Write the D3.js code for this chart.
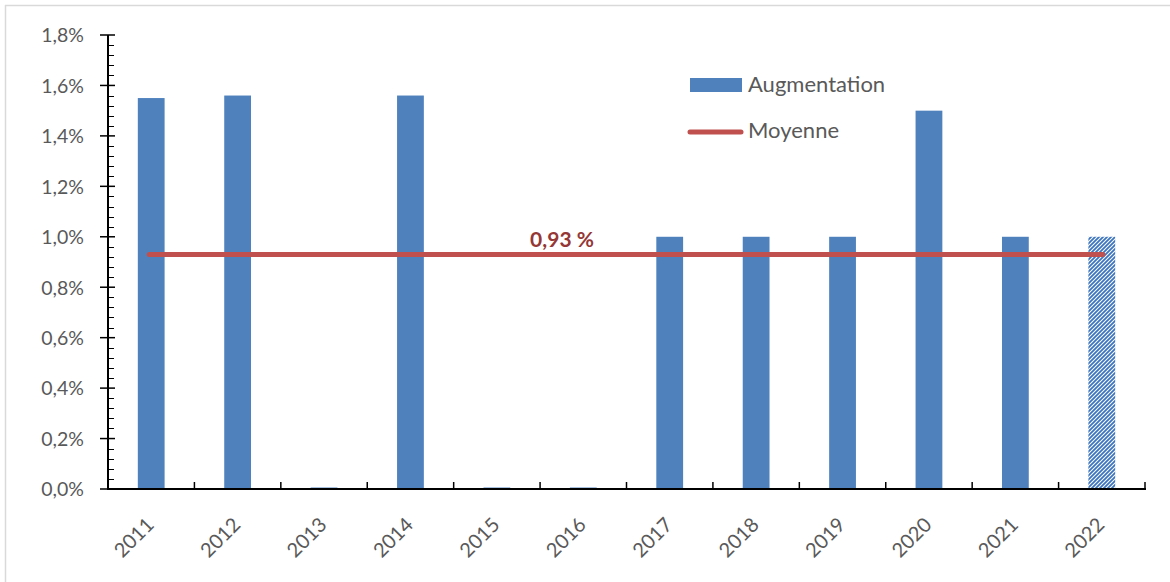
<!DOCTYPE html>
<html><head><meta charset="utf-8">
<script src="https://cdn.jsdelivr.net/npm/d3@7"></script>
<style>
body{margin:0;background:#fff;}
svg{display:block;font-family:Lato,"Open Sans",sans-serif;}
</style></head>
<body>
<svg id="c" width="1170" height="582"></svg>
<script>
const years = ["2011","2012","2013","2014","2015","2016","2017","2018","2019","2020","2021","2022"];
const augmentation = [0.0155,0.0156,0.00005,0.0156,0.00005,0.00005,0.010,0.010,0.010,0.015,0.010,0.010];
const estimated = ["2022"];
const moyenne = 0.0093;
const yTicks = [0,0.002,0.004,0.006,0.008,0.010,0.012,0.014,0.016,0.018];
const meanLabel = "0,93 %";
const legendLabels = ["Augmentation","Moyenne"];

const svg = d3.select("#c");
const blue = "#4F81BD", red = "#C0504D", txt = "#595959";

// frame
svg.append("line").attr("x1",5).attr("x2",1170).attr("y1",5.5).attr("y2",5.5).attr("stroke","#d9d9d9").attr("stroke-width",1.5);
svg.append("line").attr("x1",5.5).attr("x2",5.5).attr("y1",5).attr("y2",582).attr("stroke","#d9d9d9").attr("stroke-width",1.5);

const x = d3.scaleBand().domain(years).range([108,1145]).paddingInner(0.69).paddingOuter(0.345);
const y = d3.scaleLinear().domain([0,0.018]).range([489,35]);
const step = x.step();

const defs = svg.append("defs");
const pat = defs.append("pattern").attr("id","hatch").attr("patternUnits","userSpaceOnUse")
  .attr("width",4).attr("height",4);
pat.append("rect").attr("width",4).attr("height",4).attr("fill","#fff");
pat.append("path").attr("d","M-1,1 l2,-2 M0,4 l4,-4 M3,5 l2,-2").attr("stroke","#3c74c0").attr("stroke-width",1.8);

// bars
svg.append("g").selectAll("rect").data(years).join("rect")
  .attr("x",d=>x(d)).attr("width",x.bandwidth())
  .attr("y",(d,i)=>Math.min(y(augmentation[i]), 487.5))
  .attr("height",(d,i)=>Math.max(489-y(augmentation[i]),1.5))
  .attr("fill",d=>estimated.includes(d)?"url(#hatch)":blue);

// mean line
const xc = d=>x(d)+x.bandwidth()/2;
svg.append("line").attr("x1",xc(years[0])-2).attr("x2",xc(years[years.length-1])+1)
  .attr("y1",y(moyenne)).attr("y2",y(moyenne))
  .attr("stroke",red).attr("stroke-width",5).attr("stroke-linecap","round");
svg.append("text").attr("x",562).attr("y",247).attr("text-anchor","middle")
  .attr("font-size",21).attr("font-weight","bold").attr("fill","#953735").text(meanLabel);

// y axis
const yAxis = d3.axisLeft(y).tickValues(yTicks).tickSize(0).tickPadding(0)
  .tickFormat(d=>d3.format(".1f")(d*100).replace(".",",")+"%");
const ga = svg.append("g").attr("transform","translate(108,0)").call(yAxis);
ga.select(".domain").remove();
ga.selectAll("text").attr("x",-24).attr("dy","0.35em").attr("font-size",19.5).attr("fill",txt).attr("font-family","Lato,'Open Sans',sans-serif");
// minor ticks
const minor = d3.range(0,0.0181,0.0004).filter(v=>Math.abs(Math.round(v/0.002)*0.002 - v)>1e-6);
svg.append("g").selectAll("line").data(minor).join("line")
  .attr("x1",108).attr("x2",114).attr("y1",d=>Math.round(y(d))+0.5).attr("y2",d=>Math.round(y(d))+0.5)
  .attr("stroke","#000").attr("stroke-width",1);
svg.append("g").selectAll("line").data(yTicks).join("line")
  .attr("x1",100).attr("x2",115).attr("y1",d=>y(d)).attr("y2",d=>y(d))
  .attr("stroke","#000").attr("stroke-width",1.5);
svg.append("line").attr("x1",108).attr("x2",108).attr("y1",y(0.018)).attr("y2",y(0)+1).attr("stroke","#000").attr("stroke-width",2);

// x axis
svg.append("line").attr("x1",107).attr("x2",1146).attr("y1",489).attr("y2",489).attr("stroke","#000").attr("stroke-width",2);
const bounds = years.map((d,i)=>108+step*(i+1));
svg.append("g").selectAll("line").data(bounds).join("line")
  .attr("x1",d=>d).attr("x2",d=>d).attr("y1",482).attr("y2",489).attr("stroke","#000").attr("stroke-width",1.5);
svg.append("g").selectAll("text").data(years).join("text")
  .attr("transform",d=>`translate(${xc(d)+4},526) rotate(-45)`)
  .attr("text-anchor","end").attr("font-size",20).attr("fill",txt).text(d=>d);

// legend
const lg = svg.append("g");
lg.append("rect").attr("x",690).attr("y",78).attr("width",52).attr("height",14).attr("fill",blue);
lg.append("text").attr("x",748).attr("y",92).attr("font-size",22).attr("fill",txt).text(legendLabels[0]);
lg.append("line").attr("x1",690).attr("x2",741).attr("y1",132).attr("y2",132).attr("stroke",red).attr("stroke-width",5).attr("stroke-linecap","round");
lg.append("text").attr("x",748).attr("y",138).attr("font-size",22).attr("fill",txt).text(legendLabels[1]);
</script>
</body></html>
